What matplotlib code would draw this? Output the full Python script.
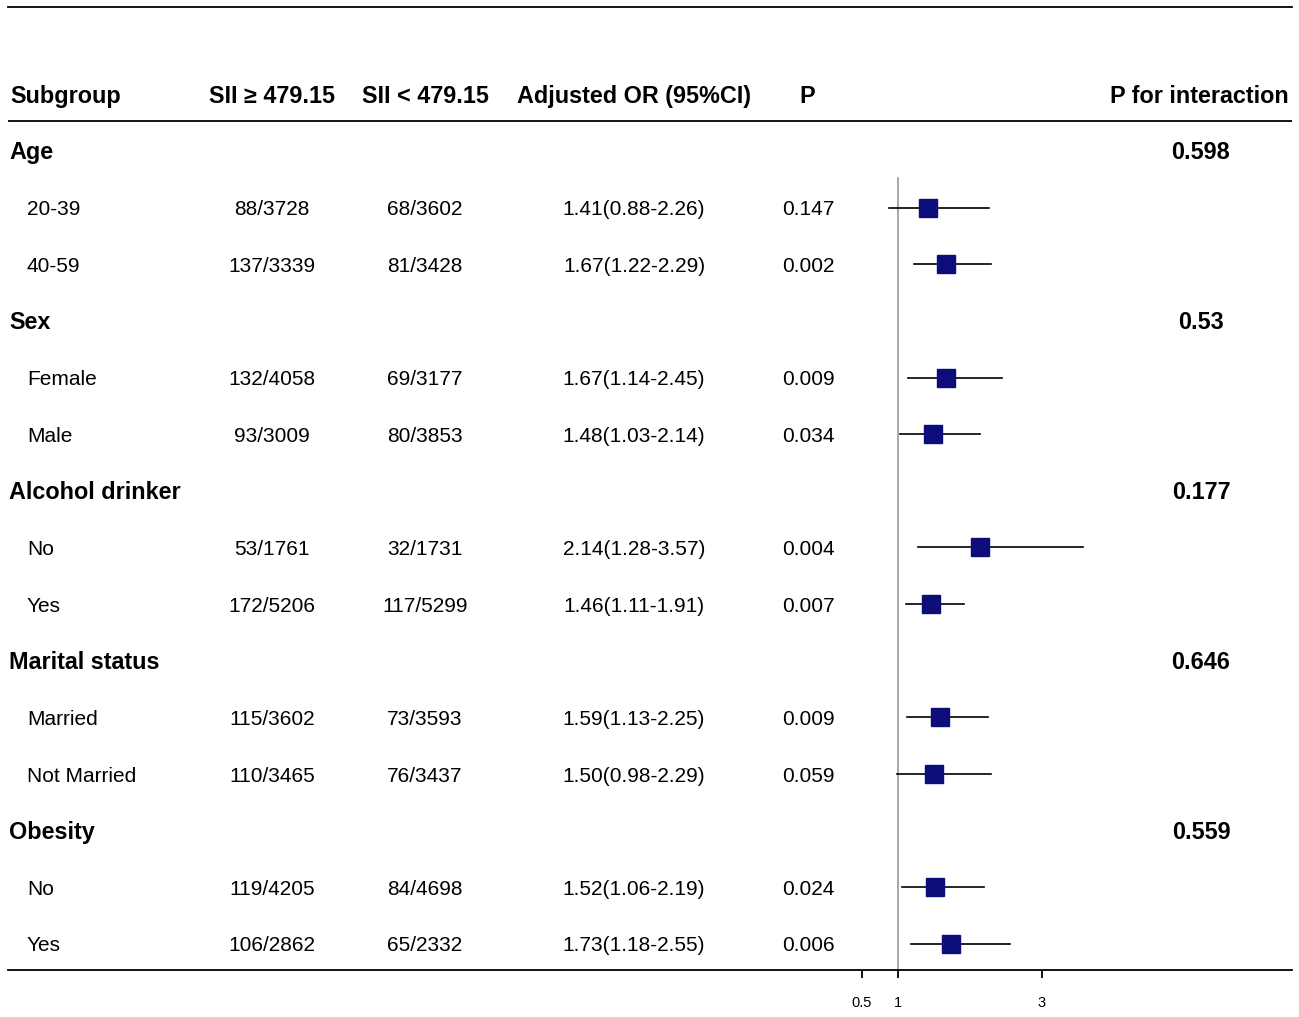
import matplotlib
matplotlib.use("Agg")
import matplotlib.pyplot as plt
import matplotlib.transforms as mtransforms

plt.rcParams['font.family'] = ['Liberation Sans', 'DejaVu Sans']

# ---- data ----
groups = ["Age", "Sex", "Alcohol drinker", "Marital status", "Obesity"]
p_interaction = ["0.598", "0.53", "0.177", "0.646", "0.559"]
sub_labels = [["20-39", "40-59"], ["Female", "Male"], ["No", "Yes"],
              ["Married", "Not Married"], ["No", "Yes"]]
high_counts = [["88/3728", "137/3339"], ["132/4058", "93/3009"], ["53/1761", "172/5206"],
               ["115/3602", "110/3465"], ["119/4205", "106/2862"]]
low_counts = [["68/3602", "81/3428"], ["69/3177", "80/3853"], ["32/1731", "117/5299"],
              ["73/3593", "76/3437"], ["84/4698", "65/2332"]]
or_est = [[1.41, 1.67], [1.67, 1.48], [2.14, 1.46], [1.59, 1.50], [1.52, 1.73]]
or_lo = [[0.88, 1.22], [1.14, 1.03], [1.28, 1.11], [1.13, 0.98], [1.06, 1.18]]
or_hi = [[2.26, 2.29], [2.45, 2.14], [3.57, 1.91], [2.25, 2.29], [2.19, 2.55]]
p_values = [["0.147", "0.002"], ["0.009", "0.034"], ["0.004", "0.007"],
            ["0.009", "0.059"], ["0.024", "0.006"]]
headers = ["Subgroup", "SII \u2265 479.15", "SII < 479.15", "Adjusted OR (95%CI)", "P", "P for interaction"]
xticks = [0.5, 1, 3]

W, H = 1299, 1017
fig = plt.figure(figsize=(W / 100, H / 100), dpi=100)
ax = fig.add_axes([8 / W, (H - 970) / H, (1292 - 8) / W, (970 - 7) / H])

px_per_unit = 72.0
x_ref_px = 898
ax.set_xlim(1 - (x_ref_px - 8) / px_per_unit, 1 + (1292 - x_ref_px) / px_per_unit)
row_h = 56.64
ax.set_ylim((970 - 151) / row_h, -(151 - 7) / row_h)

for s in ["left", "right"]:
    ax.spines[s].set_visible(False)
ax.spines["top"].set_linewidth(1.3)
ax.spines["bottom"].set_linewidth(1.3)
ax.set_yticks([])
ax.set_xticks(xticks)
ax.set_xticklabels(["0.5", "1", "3"], fontsize=10.5)
ax.tick_params(axis="x", direction="out", length=6, width=1.3, pad=13)

tr = mtransforms.blended_transform_factory(fig.transFigure, ax.transData)
dy = 2.0 / row_h  # small downward nudge for text

def fx(px):
    return px / W

# header
hy = -1.0 + dy
ax.text(fx(10), hy, headers[0], transform=tr, ha="left", va="center", fontsize=16.8, fontweight="bold")
ax.text(fx(272), hy, headers[1], transform=tr, ha="center", va="center", fontsize=16.8, fontweight="bold")
ax.text(fx(425), hy, headers[2], transform=tr, ha="center", va="center", fontsize=16.8, fontweight="bold")
ax.text(fx(634), hy, headers[3], transform=tr, ha="center", va="center", fontsize=16.8, fontweight="bold")
ax.text(fx(807), hy, headers[4], transform=tr, ha="center", va="center", fontsize=16.8, fontweight="bold")
ax.text(fx(1289), hy, headers[5], transform=tr, ha="right", va="center", fontsize=16.8, fontweight="bold")
ax.axhline((121 - 151) / row_h, color="black", lw=1.3)

row = 0
for g in range(len(groups)):
    ax.text(fx(9), row + dy, groups[g], transform=tr, ha="left", va="center", fontsize=16.8, fontweight="bold")
    ax.text(fx(1201), row + dy, p_interaction[g], transform=tr, ha="center", va="center", fontsize=16.8, fontweight="bold")
    row += 1
    for k in range(len(sub_labels[g])):
        ax.text(fx(27), row + dy, sub_labels[g][k], transform=tr, ha="left", va="center", fontsize=15)
        ax.text(fx(272), row + dy, high_counts[g][k], transform=tr, ha="center", va="center", fontsize=15)
        ax.text(fx(425), row + dy, low_counts[g][k], transform=tr, ha="center", va="center", fontsize=15)
        txt = f"{or_est[g][k]:.2f}({or_lo[g][k]:.2f}-{or_hi[g][k]:.2f})"
        ax.text(fx(634), row + dy, txt, transform=tr, ha="center", va="center", fontsize=15)
        ax.text(fx(808), row + dy, p_values[g][k], transform=tr, ha="center", va="center", fontsize=15)
        ax.plot([or_lo[g][k], or_hi[g][k]], [row, row], color="black", lw=1.2, zorder=3)
        ax.plot([or_est[g][k]], [row], marker="s", markersize=13.5, color="#0d0d7a",
                markeredgecolor="#0d0d7a", zorder=4)
        row += 1

ax.plot([1, 1], [0.48, ax.get_ylim()[0]], color="#9a9a9a", lw=1.2, zorder=2)

fig.savefig("out.png", dpi=100)
